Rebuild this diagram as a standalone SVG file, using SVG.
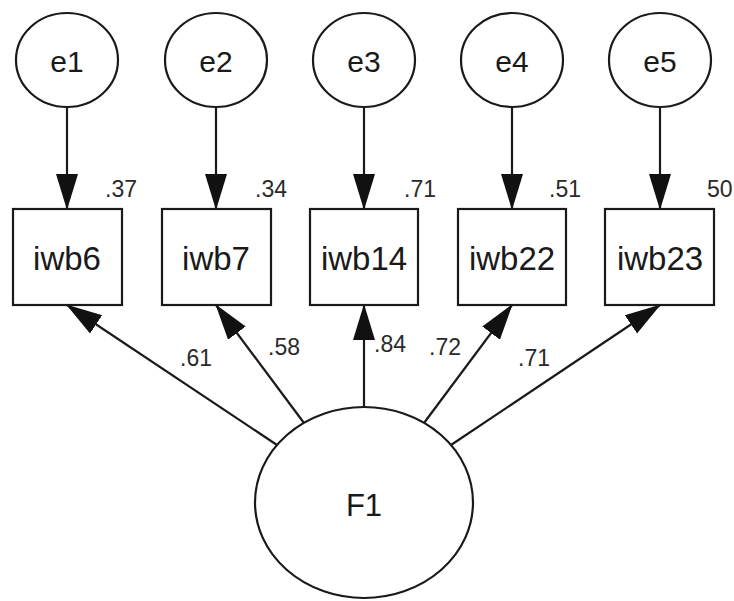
<svg xmlns="http://www.w3.org/2000/svg" width="734" height="601" viewBox="0 0 734 601">
<style>
.node{fill:#fff;stroke:#1a1a1a;stroke-width:2.2}
.lbl{font-family:"Liberation Sans",Arial,sans-serif;fill:#1a1a1a;text-anchor:middle}
.num{font-family:"Liberation Sans",Arial,sans-serif;font-size:23px;fill:#2a2a2a}
.edge{stroke:#1a1a1a;stroke-width:2.2;fill:none;marker-end:url(#ah)}
</style>
<defs>
<marker id="ah" markerUnits="userSpaceOnUse" markerWidth="36" markerHeight="24" viewBox="0 0 36 24" refX="35" refY="12" orient="auto">
<path d="M0,1 L36,12 L0,23 Z" fill="#111"/>
</marker>
</defs>
<rect width="734" height="601" fill="#fff"/>
<g id="connectors">
<line class="edge" x1="67" y1="107" x2="67" y2="209"/>
<line class="edge" x1="216" y1="107" x2="216" y2="209"/>
<line class="edge" x1="364" y1="107" x2="364" y2="209"/>
<line class="edge" x1="512" y1="107" x2="512" y2="209"/>
<line class="edge" x1="660" y1="107" x2="660" y2="209"/>
<line class="edge" x1="277" y1="445" x2="67" y2="305"/>
<line class="edge" x1="304" y1="423" x2="216" y2="305"/>
<line class="edge" x1="364" y1="407" x2="364" y2="305"/>
<line class="edge" x1="424" y1="423" x2="512" y2="305"/>
<line class="edge" x1="451" y1="445" x2="660" y2="305"/>
</g>
<g id="e1"><ellipse class="node" cx="67" cy="60" rx="51" ry="47"/><text class="lbl" x="67" y="72" font-size="30">e1</text></g>
<g id="e2"><ellipse class="node" cx="216" cy="60" rx="51" ry="47"/><text class="lbl" x="216" y="72" font-size="30">e2</text></g>
<g id="e3"><ellipse class="node" cx="364" cy="60" rx="51" ry="47"/><text class="lbl" x="364" y="72" font-size="30">e3</text></g>
<g id="e4"><ellipse class="node" cx="512" cy="60" rx="51" ry="47"/><text class="lbl" x="512" y="72" font-size="30">e4</text></g>
<g id="e5"><ellipse class="node" cx="660" cy="60" rx="51" ry="47"/><text class="lbl" x="660" y="72" font-size="30">e5</text></g>
<g id="iwb6"><rect class="node" x="13" y="209" width="109" height="96"/><text class="lbl" x="67" y="270" font-size="33">iwb6</text></g>
<g id="iwb7"><rect class="node" x="162" y="209" width="109" height="96"/><text class="lbl" x="216" y="270" font-size="33">iwb7</text></g>
<g id="iwb14"><rect class="node" x="310" y="209" width="108" height="96"/><text class="lbl" x="364" y="270" font-size="33">iwb14</text></g>
<g id="iwb22"><rect class="node" x="458" y="209" width="108" height="96"/><text class="lbl" x="512" y="270" font-size="33">iwb22</text></g>
<g id="iwb23"><rect class="node" x="605" y="209" width="109" height="96"/><text class="lbl" x="660" y="270" font-size="33">iwb23</text></g>
<g id="F1"><ellipse class="node" cx="364" cy="502.5" rx="109" ry="95.5"/><text class="lbl" x="364" y="516" font-size="31">F1</text></g>
<g id="labels">
<text class="num" x="105" y="197">.37</text>
<text class="num" x="255" y="197">.34</text>
<text class="num" x="404" y="197">.71</text>
<text class="num" x="549" y="197">.51</text>
<text class="num" x="707" y="197">50</text>
<text class="num" x="180" y="366">.61</text>
<text class="num" x="268" y="355">.58</text>
<text class="num" x="374" y="352">.84</text>
<text class="num" x="429" y="355">.72</text>
<text class="num" x="518" y="366">.71</text>
</g>
</svg>
